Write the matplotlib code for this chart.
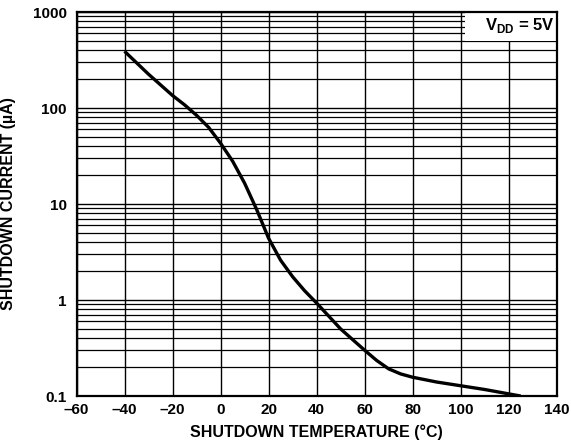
import numpy as np
import matplotlib
matplotlib.use('Agg')
import matplotlib.pyplot as plt
from matplotlib.patches import Rectangle
from matplotlib.ticker import FixedLocator, LogLocator, NullFormatter

plt.rcParams['font.family'] = ['Liberation Sans', 'DejaVu Sans']
plt.rcParams['font.weight'] = 'bold'
plt.rcParams['mathtext.fontset'] = 'custom'
plt.rcParams['mathtext.rm'] = 'Liberation Sans:bold'
plt.rcParams['mathtext.bf'] = 'Liberation Sans:bold'

###### DATA ##########
temp_c = [-40, -30, -20, -15, -10, -5, 0, 5, 10, 15, 20, 25, 30, 35, 40,
          50, 60, 65, 70, 75, 80, 90, 100, 110, 125]
current_ua = [390, 225, 135, 108, 84, 63, 43, 28, 16.5, 8.8, 4.4, 2.6, 1.75, 1.25, 0.93,
              0.50, 0.30, 0.235, 0.192, 0.170, 0.157, 0.140, 0.128, 0.117, 0.100]
x_ticks = [-60, -40, -20, 0, 20, 40, 60, 80, 100, 120, 140]
y_ticks = [0.1, 1, 10, 100, 1000]
y_ticklabels = ['0.1', '1', '10', '100', '1000']
######################

fig = plt.figure(figsize=(5.71, 4.46), dpi=100)
ax = fig.add_axes([0.134, 0.112, 0.841, 0.861])

ax.plot(temp_c, current_ua, color='black', lw=2.4, zorder=5,
        solid_capstyle='butt', solid_joinstyle='round')

ax.set_yscale('log')
ax.set_xlim(-60, 140)
ax.set_ylim(0.1, 1000)

ax.xaxis.set_major_locator(FixedLocator(x_ticks))
ax.set_xticklabels([str(t).replace('-', '\u2013') for t in x_ticks])
ax.yaxis.set_major_locator(FixedLocator(y_ticks))
ax.set_yticklabels(y_ticklabels)
ax.yaxis.set_minor_locator(LogLocator(base=10, subs=np.arange(2, 10)))
ax.yaxis.set_minor_formatter(NullFormatter())

ax.tick_params(which='both', length=0, labelsize=11)
ax.tick_params(axis='x', pad=5)
ax.tick_params(axis='y', pad=7)
for lab in ax.get_xticklabels() + ax.get_yticklabels():
    lab.set_fontweight('bold')

ax.grid(True, which='major', axis='both', color='black', lw=1.0)
ax.grid(True, which='minor', axis='y', color='black', lw=0.9)

for sp in ax.spines.values():
    sp.set_linewidth(1.6)
    sp.set_zorder(6)

# label box top right
ax.add_patch(Rectangle((102, 500), 38, 500, facecolor='white',
                       edgecolor='none', zorder=3))
ax.text(139, 720, r'V$_{\mathrm{DD}}$ = 5V', ha='right', va='center',
        fontsize=12, fontweight='bold', zorder=4)

ax.set_xlabel('SHUTDOWN TEMPERATURE (\u00b0C)', fontsize=11.5,
              fontweight='bold', va='center')
ax.set_ylabel('SHUTDOWN CURRENT (\u00b5A)', fontsize=11.5,
              fontweight='bold', va='center')
ax.xaxis.set_label_coords(0.5, -0.094)
ax.yaxis.set_label_coords(-0.141, 0.5)

fig.savefig('out.png', dpi=100)
